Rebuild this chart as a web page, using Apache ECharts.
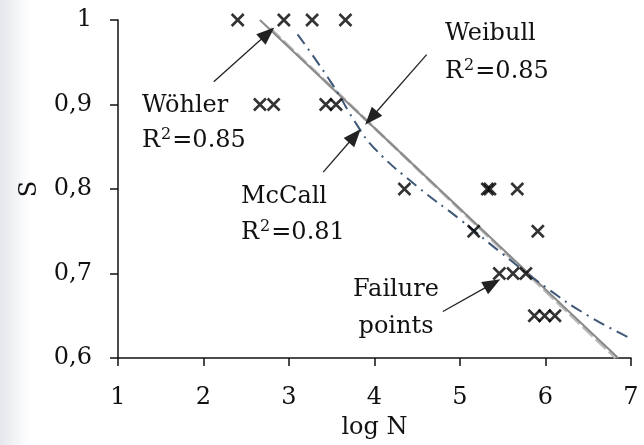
<!DOCTYPE html>
<html><head><meta charset="utf-8">
<script src="https://cdn.jsdelivr.net/npm/echarts@6/dist/echarts.min.js"></script>
<style>html,body{margin:0;padding:0;background:#fff}#c{width:644px;height:445px}</style>
</head><body><div id="c"></div>
<script>
const failureLogN = [2.40, 2.94, 3.27, 3.66, 2.66, 2.82, 3.43, 3.55, 4.35, 5.32, 5.35, 5.67, 5.16, 5.91, 5.46, 5.62, 5.77, 5.87, 5.99, 6.11];
const failureS    = [1.0, 1.0, 1.0, 1.0, 0.9, 0.9, 0.9, 0.9, 0.8, 0.8, 0.8, 0.8, 0.75, 0.75, 0.7, 0.7, 0.7, 0.65, 0.65, 0.65];
const weibullLogN = [2.66, 6.85];
const weibullS    = [1.0, 0.6];
const wohlerLogN  = [2.78, 6.82];
const wohlerS     = [0.99, 0.6];
const mccallLogN  = [3.1, 3.5, 3.8, 4.0, 4.5, 5.0, 5.5, 6.0, 6.5, 7.0];
const mccallS     = [0.983, 0.925, 0.875, 0.848, 0.803, 0.764, 0.723, 0.684, 0.65, 0.623];
const xTicks = [1, 2, 3, 4, 5, 6, 7];
const yTicks = [0.6, 0.7, 0.8, 0.9, 1.0];
const arrows = [
  {from: [4.61, 0.959], to: [3.96, 0.884]},
  {from: [2.12, 0.927], to: [2.75, 0.984]},
  {from: [3.40, 0.820], to: [3.77, 0.863]},
  {from: [4.80, 0.655], to: [5.38, 0.688]}
];
const zip = (a, b) => a.map((v, i) => [v, b[i]]);
const FONT = '"DejaVu Serif", serif';
const chart = echarts.init(document.getElementById('c'));
const txt = (x, y, t, align) => ({type: 'text', x: x, y: y, style: {text: t, font: '24px ' + FONT, fill: '#111', align: align || 'left', verticalAlign: 'middle'}});
const r2 = (x, y, v) => ({type: 'text', x: x, y: y, style: {
  text: '{a|R}{s|2}{a|=' + v + '}', align: 'left', verticalAlign: 'middle',
  rich: {a: {fontFamily: FONT, fontSize: 24, fill: '#111', color: '#111', lineHeight: 30},
         s: {fontFamily: FONT, fontSize: 16, fill: '#111', color: '#111', lineHeight: 30, padding: [0, 1, 12, 1]}}}});
chart.setOption({
  animation: false,
  backgroundColor: '#fff',
  grid: {left: 118, right: 13, top: 20, bottom: 86},
  xAxis: {type: 'value', min: 1, max: 7, interval: 1,
    name: 'log N', nameLocation: 'middle', nameGap: 58,
    nameTextStyle: {fontFamily: FONT, fontSize: 24, color: '#111'},
    axisLine: {lineStyle: {color: '#111', width: 1.5}},
    axisTick: {inside: false, length: 8, lineStyle: {color: '#111', width: 1.5}},
    axisLabel: {fontFamily: FONT, fontSize: 24, color: '#111', margin: 28, formatter: v => xTicks.includes(v) ? String(v) : ''},
    splitLine: {show: false}},
  yAxis: {type: 'value', min: 0.6, max: 1, interval: 0.1,
    name: 'S', nameLocation: 'middle', nameGap: 76, nameRotate: 90,
    nameTextStyle: {fontFamily: FONT, fontSize: 24, color: '#111'},
    axisLine: {show: true, lineStyle: {color: '#111', width: 1.5}},
    axisTick: {show: true, inside: false, length: 8, lineStyle: {color: '#111', width: 1.5}},
    axisLabel: {fontFamily: FONT, fontSize: 24, color: '#111', margin: 26,
      formatter: v => { const m = yTicks.find(t => Math.abs(t - v) < 1e-6); return m === 1 ? '1' : m.toFixed(1).replace('.', ','); }},
    splitLine: {show: false}},
  graphic: [
    {type: 'rect', shape: {x: 0, y: 0, width: 30, height: 445}, z: -10,
     style: {fill: new echarts.graphic.LinearGradient(0, 0, 1, 0, [{offset: 0, color: '#e4e7ec'}, {offset: 1, color: '#ffffff'}])}},
    txt(445, 34, 'Weibull'), r2(445, 72, '0.85'),
    txt(142, 106, 'Wöhler'), r2(142, 141, '0.85'),
    txt(241, 197, 'McCall'), r2(241, 233, '0.81'),
    txt(396, 290, 'Failure', 'center'), txt(396, 327, 'points', 'center')
  ],
  series: [
    {type: 'line', data: zip(wohlerLogN, wohlerS), symbol: 'none', z: 2,
     lineStyle: {color: '#bdbdbd', width: 3, type: [14, 4]}},
    {type: 'line', data: zip(weibullLogN, weibullS), symbol: 'none', z: 3,
     lineStyle: {color: '#8a8a8a', width: 2}},
    {type: 'line', data: zip(mccallLogN, mccallS), symbol: 'none', smooth: true, z: 3,
     lineStyle: {color: '#3f5878', width: 2, type: [12, 6, 2, 6]}},
    {type: 'scatter', data: zip(failureLogN, failureS), z: 5,
     symbol: 'path://M0,0L10,10M10,0L0,10', symbolSize: 12,
     itemStyle: {color: 'none', borderColor: '#000', borderWidth: 2.6}},
    {type: 'line', data: [], z: 6,
     markLine: {silent: true, symbol: ['none', 'triangle'], symbolSize: [14, 18],
       lineStyle: {color: '#222', width: 1.3, type: 'solid'}, label: {show: false},
       itemStyle: {color: '#111'},
       data: arrows.map(a => [{coord: a.from}, {coord: a.to}])}}
  ]
});
</script></body></html>
